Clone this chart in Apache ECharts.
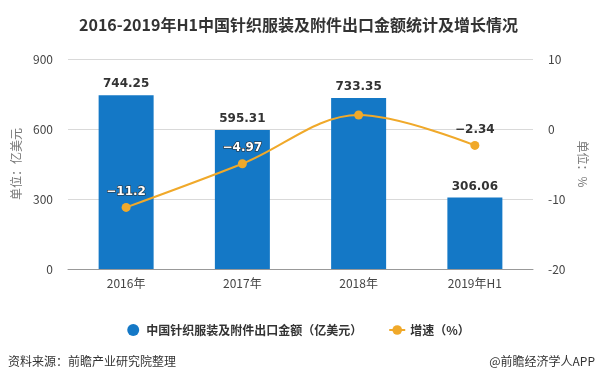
<!DOCTYPE html>
<html>
<head>
<meta charset="utf-8">
<script src="https://cdn.jsdelivr.net/npm/echarts@6/dist/echarts.min.js"></script>
<style>html,body{margin:0;padding:0;background:#fff}#c{width:597px;height:373px}</style>
</head>
<body>
<div id="c"></div>
<script>
var categories = ['2016年', '2017年', '2018年', '2019年H1'];
var exportValues = [744.25, 595.31, 733.35, 306.06];
var growthRates = [-11.2, -4.97, 2.0, -2.34];
var hiddenGrowthLabels = [false, false, true, false];
var leftTicks = [0, 300, 600, 900];
var rightTicks = [-20, -10, 0, 10];

var FONT = '"Noto Sans CJK SC", "Noto Sans", sans-serif';
var NUMFONT = 'Verdana, "DejaVu Sans", sans-serif';
var chart = echarts.init(document.getElementById('c'));

function growthData(onBar) {
  return growthRates.map(function (v, i) {
    if (hiddenGrowthLabels[i]) return { value: v, label: { show: false } };
    if (onBar && !onBar[i]) return { value: v, label: { color: '#333', textBorderWidth: 0 } };
    return v;
  });
}

chart.setOption({
  animation: false,
  textStyle: { fontFamily: FONT },
  title: {
    text: '2016-2019年H1中国针织服装及附件出口金额统计及增长情况',
    left: 'center', top: 12,
    textStyle: { fontSize: 16, fontWeight: 'bold', color: '#333', fontFamily: FONT }
  },
  grid: { left: 68, right: 64, top: 59, bottom: 104 },
  legend: {
    top: 319, left: 'center', itemGap: 26,
    itemWidth: 16, itemHeight: 12,
    textStyle: { fontSize: 12, fontWeight: 'bold', color: '#333', fontFamily: FONT },
    data: [
      { name: '中国针织服装及附件出口金额（亿美元）', icon: 'circle' },
      { name: '增速（%）' }
    ]
  },
  xAxis: {
    type: 'category', data: categories,
    axisLine: { lineStyle: { color: '#999' } },
    axisTick: { alignWithLabel: true, length: 5, lineStyle: { color: '#999' } },
    axisLabel: { color: '#444', fontSize: 12, margin: 8 }
  },
  yAxis: [
    {
      type: 'value', min: leftTicks[0], max: leftTicks[leftTicks.length - 1], interval: 300,
      name: '单位：亿美元', nameLocation: 'middle', nameGap: 46,
      nameTextStyle: { color: '#777', fontSize: 12 },
      axisLine: { show: false }, axisTick: { show: false },
      axisLabel: { color: '#444', fontSize: 12, margin: 15 },
      splitLine: { lineStyle: { color: '#d9d9d9' } }
    },
    {
      type: 'value', min: rightTicks[0], max: rightTicks[rightTicks.length - 1], interval: 10,
      name: '单位：%', nameLocation: 'middle', nameGap: 40, nameRotate: -90,
      nameTextStyle: { color: '#777', fontSize: 12 },
      axisLine: { show: false }, axisTick: { show: false },
      axisLabel: { color: '#444', fontSize: 12, margin: 15 },
      splitLine: { show: false }
    }
  ],
  series: [
    {
      name: '中国针织服装及附件出口金额（亿美元）',
      type: 'bar', data: exportValues, barWidth: 55,
      itemStyle: { color: '#1478C6' },
      label: {
        show: true, position: 'top', distance: 5,
        color: '#333', fontSize: 12, fontWeight: 'bold', fontFamily: NUMFONT,
        formatter: function (p) { return p.value.toFixed(2); }
      }
    },
    {
      name: '增速（%）',
      type: 'line', yAxisIndex: 1, smooth: 0.35,
      data: growthData(null),
      symbol: 'circle', symbolSize: 9,
      itemStyle: { color: '#F0A92A' },
      lineStyle: { color: '#F0A92A', width: 2 },
      label: {
        show: true, position: 'top', distance: 5,
        color: '#fff', textBorderColor: '#2a2a2a', textBorderWidth: 1.2,
        fontSize: 12, fontWeight: 'bold', fontFamily: NUMFONT,
        formatter: function (p) { return String(p.value).replace('-', '\u2212'); }
      },
      z: 5
    }
  ],
  graphic: [
    { type: 'text', left: 8, top: 355, style: { text: '资料来源：前瞻产业研究院整理', fontSize: 12, fill: '#333', fontFamily: FONT } },
    { type: 'text', right: 2, top: 355, style: { text: '@前瞻经济学人APP', fontSize: 12, fill: '#333', fontFamily: FONT } }
  ]
});

// Labels that sit on top of a bar get the white/outlined style; others are dark.
var onBar = growthRates.map(function (v, i) {
  var pt = chart.convertToPixel({ gridIndex: 0 }, [i, 0]);
  var py = chart.convertToPixel({ yAxisIndex: 1 }, v);
  var by = chart.convertToPixel({ yAxisIndex: 0 }, exportValues[i]);
  return py - 20 > by;
});
chart.setOption({ series: [{}, { data: growthData(onBar) }] });
</script>
</body>
</html>
